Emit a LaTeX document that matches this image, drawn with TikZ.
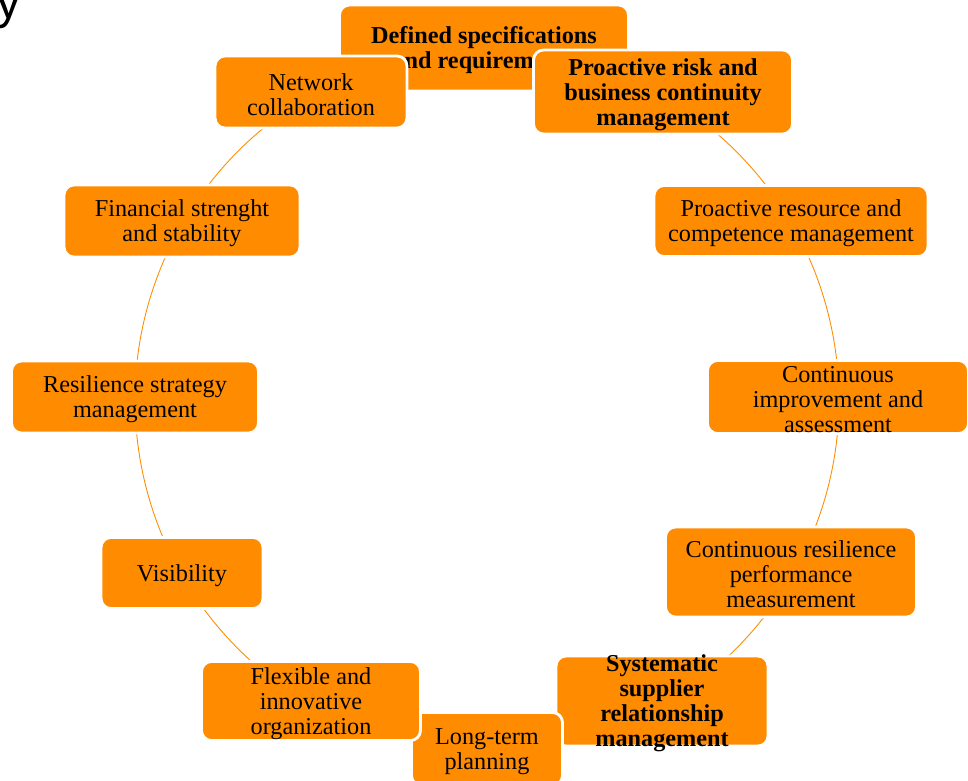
\documentclass[tikz,border=0pt]{standalone}
\usepackage[svgnames]{xcolor}
\usepackage{fontspec}
\setmainfont{Liberation Serif}
\setsansfont{Liberation Sans}
\usepackage{tikz}

\begin{document}
\begin{tikzpicture}[x=.02cm,y=-.02cm,
                      basenode/.style={draw=white,line width=1.6pt,fill=DarkOrange,rounded corners=.2cm,inner sep=0pt},
                      boxtext/.style={align=center,inner sep=0pt,yshift=-.05cm,font={\fontsize{13.8}{14.2}\selectfont}},
                      boldtext/.style={boxtext,font={\fontsize{13.8}{14.2}\selectfont\bfseries}},
                      ring/.style={draw=DarkOrange,line width=.5pt}]
    \useasboundingbox (0,0) rectangle (968,781);
    \node[anchor=base east,inner sep=0pt,font={\sffamily\fontsize{28}{32}\selectfont}] (title) at (21,18) {y};
    \node[coordinate] (centre) at (487,400) {};
    \draw[ring] (centre) ++(282:7.04cm) arc[start angle=282,end angle=615,radius=7.04cm];
    \node[basenode,minimum width=5.78cm,minimum height=1.72cm,label={[boldtext]center:Defined specifications\\and requirements}] (specs) at (484,48) {};
    \node[basenode,minimum width=5.18cm,minimum height=1.68cm,label={[boldtext]center:Proactive risk and\\business continuity\\management}] (risk) at (663,92) {};
    \node[basenode,minimum width=5.48cm,minimum height=1.42cm,label={[boxtext]center:Proactive resource and\\competence management}] (resource) at (791,221) {};
    \node[basenode,minimum width=5.22cm,minimum height=1.46cm,label={[boxtext]center:Continuous\\improvement and\\assessment}] (improvement) at (838,397) {};
    \node[basenode,minimum width=5.02cm,minimum height=1.80cm,label={[boxtext]center:Continuous resilience\\performance\\measurement}] (measurement) at (791,572) {};
    \node[basenode,minimum width=4.24cm,minimum height=1.80cm,label={[boldtext]center:Systematic\\supplier\\relationship\\management}] (supplier) at (662,701) {};
    \node[basenode,minimum width=3.02cm,minimum height=1.46cm,label={[boxtext]center:Long-term\\planning}] (planning) at (487,749) {};
    \node[basenode,minimum width=4.38cm,minimum height=1.58cm,label={[boxtext]center:Flexible and\\innovative\\organization}] (flexible) at (311,701) {};
    \node[basenode,minimum width=3.24cm,minimum height=1.42cm,label={[boxtext]center:Visibility}] (visibility) at (182,573) {};
    \node[basenode,minimum width=4.94cm,minimum height=1.44cm,label={[boxtext]center:Resilience strategy\\management}] (strategy) at (135,397) {};
    \node[basenode,minimum width=4.72cm,minimum height=1.44cm,label={[boxtext]center:Financial strenght\\and stability}] (financial) at (182,221) {};
    \node[basenode,minimum width=3.84cm,minimum height=1.44cm,label={[boxtext]center:Network\\collaboration}] (network) at (311,92) {};
  \end{tikzpicture}
\end{document}
